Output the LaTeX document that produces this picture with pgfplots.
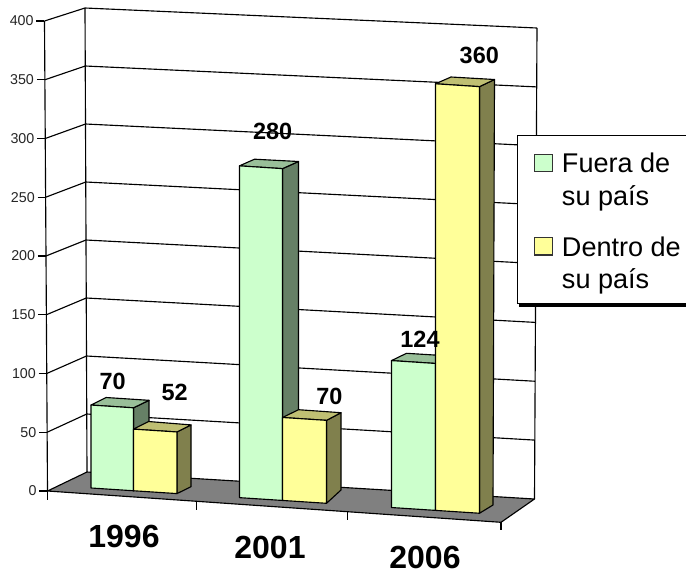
\documentclass[border=0pt]{standalone}
\usepackage{fontspec}
\setmainfont{Liberation Sans}
\usepackage{pgfplots}
\pgfplotsset{compat=1.18}
\definecolor{gfront}{HTML}{CCFFCC}
\definecolor{gside}{HTML}{668066}
\definecolor{gtop}{HTML}{99BF99}
\definecolor{yfront}{HTML}{FFFF99}
\definecolor{yside}{HTML}{80804D}
\definecolor{ytop}{HTML}{BFBF73}
\definecolor{floorc}{HTML}{808080}
\pgfplotsset{
  pixelaxis/.style={at={(0pt,0pt)},anchor=south west,width=514.5pt,height=432pt,scale only axis,
    xmin=0,xmax=686,ymin=0,ymax=576,y dir=reverse,hide axis,clip=false},
  edge/.style={draw=black,line width=0.85pt,line join=round},
}
\begin{document}
\begin{tikzpicture}
\path[use as bounding box,fill=white] (0pt,0pt) rectangle (514.5pt,432pt);
% walls, floor, grid, depth faces: screen positions
\begin{axis}[pixelaxis]
\addplot[edge] coordinates {(85,8)(87,472)};
\addplot[edge] coordinates {(537,28)(534.5,499)};
\addplot[edge] coordinates {(46.75,373.5)(86.5,356)(535.1,381.25)};
\addplot[edge] coordinates {(47.1,432.25)(86.75,414)(534.8,440.1)};
\addplot[edge] coordinates {(46.4,314.75)(86.25,298)(535.4,322.4)};
\addplot[edge] coordinates {(46,256)(86,240)(535.75,263.5)};
\addplot[edge] coordinates {(45.6,197.25)(85.75,182)(536.05,204.6)};
\addplot[edge] coordinates {(45.25,138.5)(85.5,124)(536.4,145.75)};
\addplot[edge] coordinates {(44.9,79.75)(85.25,66)(536.7,86.9)};
\addplot[edge] coordinates {(44.5,21)(85,8)(537,28)};
\addplot[edge,fill=floorc] coordinates {(47.5,491)(87,472)(534.5,499)(501,522.3)} --cycle;
% x ticks
\addplot[edge] coordinates {(47.5,491)(47.5,500)};
\addplot[edge] coordinates {(196.7,502)(196.7,510)};
\addplot[edge] coordinates {(347.7,511.7)(347.7,520)};
\addplot[edge] coordinates {(501,522.3)(501,530)};
% 1996
\addplot[edge,fill=gside] coordinates {(133.5,407.81)(149,400.3)(149,485)(133.5,490.76)} --cycle;
\addplot[edge,fill=gtop] coordinates {(91,405.05)(133.5,407.81)(149,400.3)(106,397.5)} --cycle;
\addplot[edge,fill=yside] coordinates {(177,431.97)(191,424.9)(191,486.7)(177,493.59)} --cycle;
\addplot[edge,fill=ytop] coordinates {(133.5,429.14)(177,431.97)(191,424.9)(148.5,421.5)} --cycle;
% 2001
\addplot[edge,fill=gside] coordinates {(282.5,168.65)(298.5,161.5)(298.5,490)(282.5,500.45)} --cycle;
\addplot[edge,fill=gtop] coordinates {(239.5,165.85)(282.5,168.65)(298.5,161.5)(254.5,159.2)} --cycle;
\addplot[edge,fill=yside] coordinates {(326.5,420.36)(341,412.7)(341,490)(326.5,503.31)} --cycle;
\addplot[edge,fill=ytop] coordinates {(282.5,417.5)(326.5,420.36)(341,412.7)(298.5,409.7)} --cycle;
% 2006
\addplot[edge,fill=gside] coordinates {(435.5,363.45)(450.5,356)(450.5,500)(435.5,510.39)} --cycle;
\addplot[edge,fill=gtop] coordinates {(391.5,360.59)(435.5,363.45)(450.5,356)(406.5,353.3)} --cycle;
\addplot[edge,fill=yside] coordinates {(479.5,86.65)(494.5,79.5)(493,505)(479.5,513.25)} --cycle;
\addplot[edge,fill=ytop] coordinates {(435.5,83.79)(479.5,86.65)(494.5,79.5)(451,77)} --cycle;
\end{axis}
% front faces: real values on a tilted axis (x in screen pixels, y = value)
\begin{axis}[anchor=origin,at={(0pt,70.44pt)},x={(0.75pt,-0.04875pt)},y={(0pt,0.88875pt)},
  xmin=0,xmax=686,ymin=0,ymax=400,hide axis,clip=false]
\addplot[edge,fill=gfront] coordinates {(91,0)(133.5,0)(133.5,70)(91,70)} --cycle;
\addplot[edge,fill=yfront] coordinates {(133.5,0)(177,0)(177,52)(133.5,52)} --cycle;
\addplot[edge,fill=gfront] coordinates {(239.5,0)(282.5,0)(282.5,280)(239.5,280)} --cycle;
\addplot[edge,fill=yfront] coordinates {(282.5,0)(326.5,0)(326.5,70)(282.5,70)} --cycle;
\addplot[edge,fill=gfront] coordinates {(391.5,0)(435.5,0)(435.5,124)(391.5,124)} --cycle;
\addplot[edge,fill=yfront] coordinates {(435.5,0)(479.5,0)(479.5,360)(435.5,360)} --cycle;
\end{axis}
% value axis
\begin{axis}[anchor=origin,at={(35.625pt,63.75pt)},x={(10pt,0pt)},y={(-0.005625pt,0.88125pt)},
  xmin=0,xmax=1,ymin=0,ymax=400,axis lines*=left,clip=false,
  x axis line style={draw=none},xtick=\empty,
  y axis line style={line width=0.85pt,-},
  ytick={0,50,100,150,200,250,300,350,400},
  tick align=outside,major tick length=6pt,ytick pos=left,
  tick style={black,line width=0.85pt},
  /pgf/number format/assume math mode=true,
  yticklabel style={font=\fontsize{10.7}{12}\selectfont,text=black!85,inner sep=0pt,xshift=-2pt},
]
\end{axis}
% labels and legend
\begin{axis}[pixelaxis]
\node[font=\fontsize{17.6}{20}\selectfont\bfseries,inner sep=0pt] at (axis cs:112.7,381) {70};
\node[font=\fontsize{17.6}{20}\selectfont\bfseries,inner sep=0pt] at (axis cs:174.7,392) {52};
\node[font=\fontsize{17.6}{20}\selectfont\bfseries,inner sep=0pt] at (axis cs:272.7,131) {280};
\node[font=\fontsize{17.6}{20}\selectfont\bfseries,inner sep=0pt] at (axis cs:329.3,396) {70};
\node[font=\fontsize{17.6}{20}\selectfont\bfseries,inner sep=0pt] at (axis cs:420,339) {124};
\node[font=\fontsize{17.6}{20}\selectfont\bfseries,inner sep=0pt] at (axis cs:479.3,55) {360};
\node[font=\fontsize{24}{28}\selectfont\bfseries,inner sep=0pt] at (axis cs:124,536) {1996};
\node[font=\fontsize{24}{28}\selectfont\bfseries,inner sep=0pt] at (axis cs:270,547) {2001};
\node[font=\fontsize{24}{28}\selectfont\bfseries,inner sep=0pt] at (axis cs:425,557) {2006};
\fill[black] (axis cs:519,300) rectangle (axis cs:686,306.5);
\draw[black,line width=0.85pt,fill=white] (axis cs:686,135.3) -- (axis cs:517.3,135.3) -- (axis cs:517.3,303.3) -- (axis cs:686,303.3);
\draw[black!80,line width=0.85pt,fill=gfront] (axis cs:534.7,154.3) rectangle (axis cs:552.3,171.7);
\draw[black!80,line width=0.85pt,fill=yfront] (axis cs:534.7,237.7) rectangle (axis cs:552.3,255);
\node[font=\fontsize{20.3}{24}\selectfont,anchor=base west,inner sep=0pt] at (axis cs:561.7,172.3) {Fuera de};
\node[font=\fontsize{20.3}{24}\selectfont,anchor=base west,inner sep=0pt] at (axis cs:561.7,205) {su país};
\node[font=\fontsize{20.3}{24}\selectfont,anchor=base west,inner sep=0pt] at (axis cs:561.7,256) {Dentro de};
\node[font=\fontsize{20.3}{24}\selectfont,anchor=base west,inner sep=0pt] at (axis cs:561.7,288.3) {su país};
\end{axis}
\end{tikzpicture}
\end{document}
